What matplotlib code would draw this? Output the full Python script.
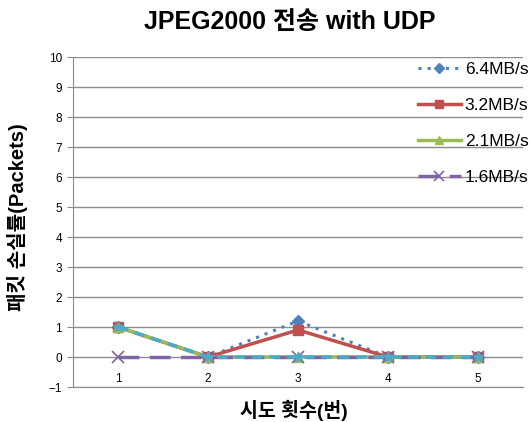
import matplotlib
matplotlib.use("Agg")
import matplotlib.pyplot as plt

plt.rcParams['font.family'] = ['Liberation Sans', 'Noto Sans CJK KR', 'DejaVu Sans']

categories = ["1", "2", "3", "4", "5"]
s64 = [1, 0, 1.2, 0, 0]
s32 = [1, 0, 0.9, 0, 0]
s21 = [1, 0, 0, 0, 0]
s16 = [0, 0, 0, 0, 0]
s_extra = [1, 0, 0, 0, 0]
labels = ["6.4MB/s", "3.2MB/s", "2.1MB/s", "1.6MB/s"]
yticks = list(range(-1, 11))

fig = plt.figure(figsize=(5.3, 4.22), dpi=100)
ax = fig.add_axes([73/530, (422-387)/422, 450/530, 330/422])

x = list(range(len(categories)))
ax.plot(x, s64, color='#4F81BD', linestyle=(0, (1, 2)), linewidth=2.2,
        marker='D', markersize=6, label=labels[0], zorder=3)
ax.plot(x, s32, color='#C0504D', linestyle='-', linewidth=2.5,
        marker='s', markersize=7, label=labels[1], zorder=3)
ax.plot(x, s21, color='#9BBB59', linestyle='-', linewidth=2.5,
        marker='^', markersize=7, label=labels[2], zorder=3)
ax.plot(x, s16, color='#8064A2', linestyle=(0, (6, 3)), linewidth=2.5,
        marker='x', markersize=8, markeredgewidth=1.2, label=labels[3], zorder=3)
ax.plot(x, s_extra, color='#4BACC6', linestyle=(0, (3, 2)), linewidth=2.5,
        marker='*', markersize=7, zorder=4, label='_nolegend_')

ax.set_xlim(-0.5, len(categories) - 0.5)
ax.set_ylim(-1, 10)
ax.set_yticks(yticks)
ax.set_xticks([])
for i, c in enumerate(categories):
    ax.text(i, -0.75, c, ha='center', va='center', fontsize=8.5)

ax.grid(axis='y', color='#8C8C8C', linewidth=1.0)
ax.set_axisbelow(True)
for sp in ['top', 'right']:
    ax.spines[sp].set_visible(False)
ax.spines['left'].set_color('#8C8C8C')
ax.spines['bottom'].set_color('#8C8C8C')
ax.tick_params(axis='y', length=4, color='#8C8C8C', labelsize=8.5, pad=4)

fig.text(290/530, 1 - 22/422, "JPEG2000 전송 with UDP", ha='center', va='center',
         fontsize=18, fontweight='bold')
fig.text(18/530, 1 - 217/422, "패킷 손실률(Packets)", ha='center', va='center',
         rotation=90, fontsize=14.5, fontweight='bold')
fig.text(294/530, 1 - 410/422, "시도 횟수(번)", ha='center', va='center',
         fontsize=14, fontweight='bold')

ax.legend(loc='upper right', bbox_to_anchor=(1.012, 0.986), frameon=False,
          fontsize=12.5, handlelength=2.5, handletextpad=0.2, labelspacing=1.2,
          borderaxespad=0, borderpad=0, markerscale=0.85)

fig.savefig("out.png", dpi=100)
